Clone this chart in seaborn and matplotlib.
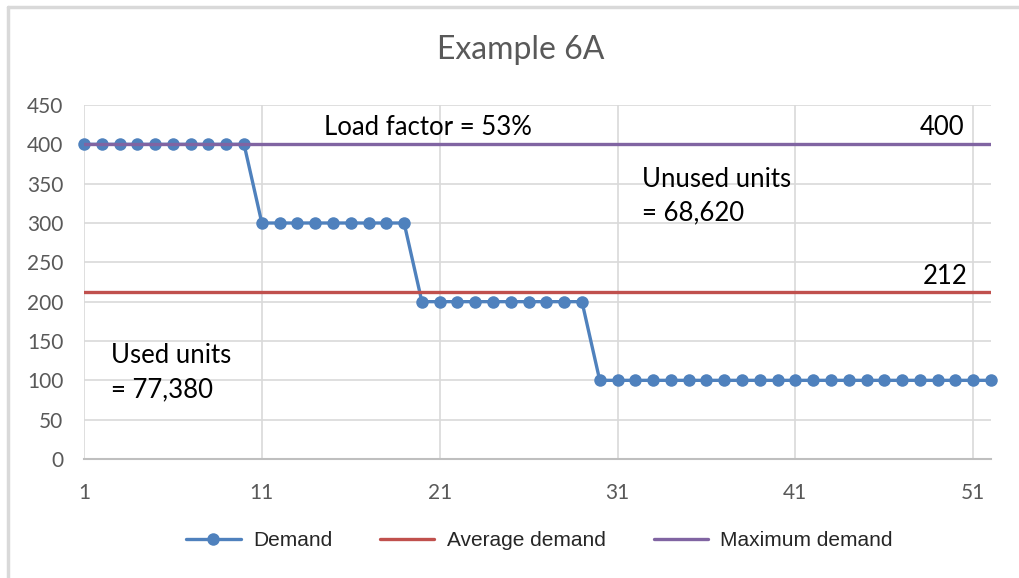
import numpy as np
import pandas as pd
import seaborn as sns
import matplotlib.pyplot as plt
from matplotlib.lines import Line2D

# data
weeks = list(range(1, 53))
demand = [400] * 10 + [300] * 9 + [200] * 10 + [100] * 23
avg_demand = 212
max_demand = 400
x_ticks = [1, 11, 21, 31, 41, 51]
y_ticks = list(range(0, 451, 50))

df = pd.DataFrame({'week': weeks, 'Demand': demand,
                   'Average demand': [avg_demand] * len(weeks),
                   'Maximum demand': [max_demand] * len(weeks)})

sns.set_style('white')
plt.rcParams['font.family'] = ['Lato', 'DejaVu Sans']

fig = plt.figure(figsize=(10.2, 5.78), dpi=100)
ax = fig.add_axes([84 / 1020, 1 - 459 / 578, (991 - 84) / 1020, (459 - 105) / 578])

# grey border of the chart area (only top and left edges show)
bx, by = 8 / 1020, 1 - 7 / 578
fig.add_artist(Line2D([bx, 1.0], [by, by], transform=fig.transFigure, color='#D9D9D9', linewidth=2.5))
fig.add_artist(Line2D([bx, bx], [0.0, by], transform=fig.transFigure, color='#D9D9D9', linewidth=2.5))

sns.lineplot(data=df, x='week', y='Demand', ax=ax, color='#4F81BD', linewidth=2.4,
             marker='o', markersize=9, markeredgewidth=0, label='Demand', legend=False, clip_on=False)
sns.lineplot(data=df, x='week', y='Average demand', ax=ax, color='#C0504D', linewidth=2.4,
             label='Average demand', legend=False)
sns.lineplot(data=df, x='week', y='Maximum demand', ax=ax, color='#8064A2', linewidth=2.4,
             label='Maximum demand', legend=False)

ax.set_xlim(1, 52)
ax.set_ylim(0, 450)
ax.set_xticks(x_ticks)
ax.set_yticks(y_ticks)
ax.set_xlabel('')
ax.set_ylabel('')
ax.grid(True, color='#D9D9D9', linewidth=1.2)
ax.set_axisbelow(True)
for s in ['top', 'right', 'left']:
    ax.spines[s].set_visible(False)
ax.spines['bottom'].set_color('#BFBFBF')
ax.spines['bottom'].set_linewidth(1.5)
ax.tick_params(axis='both', length=0, labelsize=15, labelcolor='#595959')
ax.tick_params(axis='x', pad=17)
ax.tick_params(axis='y', pad=15)

fig.text(0.51, 1 - 50 / 578, 'Example 6A', ha='center', va='center', fontsize=23, color='#595959')

txt = dict(fontsize=18.5, color='black', va='center')
ax.text(14.5, 422, 'Load factor = 53%', ha='left', **txt)
ax.text(50.5, 422, '400', ha='right', **txt)
ax.text(50.7, 232, '212', ha='right', **txt)
ax.text(32.4, 334, 'Unused units\n= 68,620', ha='left', linespacing=1.45, **txt)
ax.text(2.5, 110, 'Used units\n= 77,380', ha='left', linespacing=1.45, **txt)

handles, labels = ax.get_legend_handles_labels()
fig.legend(handles, labels, loc='center', bbox_to_anchor=(0.529, 1 - 541 / 578), ncol=3,
           frameon=False, handlelength=2.6, columnspacing=2.3, handletextpad=0.6,
           prop={'family': 'Liberation Sans', 'size': 15})

fig.savefig('out.png', dpi=100)
